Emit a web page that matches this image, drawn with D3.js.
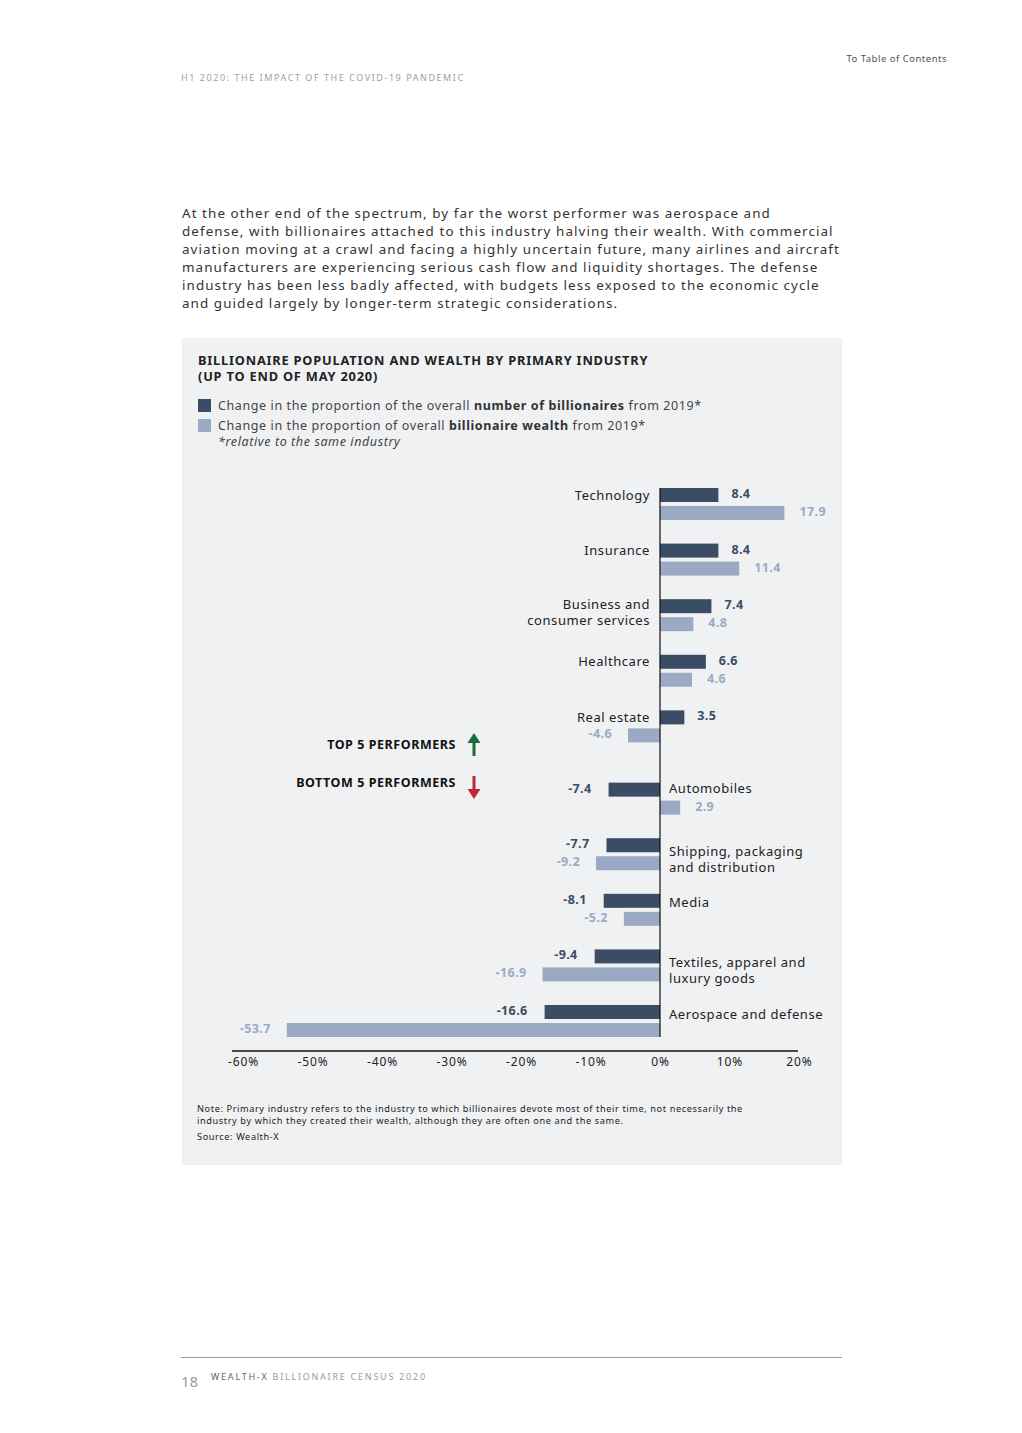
<!DOCTYPE html>
<html>
<head>
<meta charset="utf-8">
<script src="https://cdn.jsdelivr.net/npm/d3@7"></script>
<style>
  body { margin: 0; background: #fff; }
  svg text { font-family: "Noto Sans", "Open Sans", sans-serif; }
</style>
</head>
<body>
<svg id="page" width="1022" height="1433"></svg>
<script>
// data
const categories = ["Technology", "Insurance", "Business and\nconsumer services", "Healthcare", "Real estate",
  "Automobiles", "Shipping, packaging\nand distribution", "Media", "Textiles, apparel and\nluxury goods", "Aerospace and defense"];
const countChange = [8.4, 8.4, 7.4, 6.6, 3.5, -7.4, -7.7, -8.1, -9.4, -16.6];
const wealthChange = [17.9, 11.4, 4.8, 4.6, -4.6, 2.9, -9.2, -5.2, -16.9, -53.7];
const groups = ["top", "top", "top", "top", "top", "bottom", "bottom", "bottom", "bottom", "bottom"];
const xTicks = [-60, -50, -40, -30, -20, -10, 0, 10, 20];

const paragraph = [
  "At the other end of the spectrum, by far the worst performer was aerospace and",
  "defense, with billionaires attached to this industry halving their wealth. With commercial",
  "aviation moving at a crawl and facing a highly uncertain future, many airlines and aircraft",
  "manufacturers are experiencing serious cash flow and liquidity shortages. The defense",
  "industry has been less badly affected, with budgets less exposed to the economic cycle",
  "and guided largely by longer-term strategic considerations."
];

const data = categories.map((c, i) => ({
  name: c, count: countChange[i], wealth: wealthChange[i], group: groups[i],
  slot: i + (groups[i] === "bottom" ? 0.3 : 0)
}));

const darkCol = "#3a4d64";
const lightCol = "#9aaac5";

const svg = d3.select("#page");

// page header
svg.append("text").attr("x", 947).attr("y", 62).attr("text-anchor", "end")
  .style("font-size", "9.5px").style("fill", "#555").style("letter-spacing", "0.5px").text("To Table of Contents");
svg.append("text").attr("x", 181).attr("y", 81)
  .style("font-size", "9px").style("fill", "#a0a0a0").style("letter-spacing", "1.55px")
  .text("H1 2020: THE IMPACT OF THE COVID-19 PANDEMIC");

// paragraph
svg.append("g").selectAll("text").data(paragraph).join("text")
  .attr("x", 182).attr("y", (d, i) => 217.5 + i * 18)
  .style("font-size", "13.4px").style("fill", "#333").style("letter-spacing", "1.08px")
  .text(d => d);

// chart panel
svg.append("rect").attr("x", 182).attr("y", 338).attr("width", 660).attr("height", 827).attr("fill", "#f0f1f3");

svg.append("text").attr("x", 198).attr("y", 365).style("font-size", "12.8px").style("font-weight", "bold")
  .style("fill", "#222").style("letter-spacing", "0.8px").text("BILLIONAIRE POPULATION AND WEALTH BY PRIMARY INDUSTRY");
svg.append("text").attr("x", 198).attr("y", 381).style("font-size", "12.8px").style("font-weight", "bold")
  .style("fill", "#222").style("letter-spacing", "0.8px").text("(UP TO END OF MAY 2020)");

// legend
const legend = [
  { col: darkCol, pre: "Change in the proportion of the overall ", bold: "number of billionaires", post: " from 2019*" },
  { col: lightCol, pre: "Change in the proportion of overall ", bold: "billionaire wealth", post: " from 2019*" }
];
legend.forEach((l, i) => {
  const y = 399 + i * 20;
  svg.append("rect").attr("x", 198).attr("y", y).attr("width", 13).attr("height", 13).attr("fill", l.col);
  const t = svg.append("text").attr("x", 218).attr("y", y + 10.5).style("font-size", "12.5px")
    .style("fill", "#444").style("letter-spacing", "0.6px");
  t.append("tspan").text(l.pre);
  t.append("tspan").style("font-weight", "bold").style("fill", "#333").text(l.bold);
  t.append("tspan").text(l.post);
});
svg.append("text").attr("x", 218).attr("y", 446).style("font-size", "12.5px").style("font-style", "italic")
  .style("fill", "#444").style("letter-spacing", "0.6px").text("*relative to the same industry");

// scales
const x = d3.scaleLinear().domain([-60, 20]).range([243, 799]);
const y = d3.scaleLinear().domain([0, 9.3]).range([488, 1005]);
const barH = 14, gap = 18;

const g = svg.append("g");

g.selectAll(".bar-count").data(data).join("rect")
  .attr("class", "bar-count")
  .attr("x", d => x(Math.min(0, d.count)))
  .attr("y", d => y(d.slot))
  .attr("width", d => Math.abs(x(d.count) - x(0)))
  .attr("height", barH)
  .attr("fill", darkCol);

g.selectAll(".bar-wealth").data(data).join("rect")
  .attr("class", "bar-wealth")
  .attr("x", d => x(Math.min(0, d.wealth)))
  .attr("y", d => y(d.slot) + gap)
  .attr("width", d => Math.abs(x(d.wealth) - x(0)))
  .attr("height", barH)
  .attr("fill", lightCol);

// zero line
g.append("line").attr("x1", x(0)).attr("x2", x(0))
  .attr("y1", y(0)).attr("y2", y(9.3) + gap + barH)
  .attr("stroke", "#111").attr("stroke-width", 1.2);

// value labels
g.selectAll(".val-count").data(data).join("text")
  .attr("class", "val-count")
  .attr("x", d => d.count >= 0 ? x(d.count) + 13 : x(d.count) - 17)
  .attr("y", d => y(d.slot) + 10)
  .attr("text-anchor", d => d.count >= 0 ? "start" : "end")
  .style("font-size", "12.5px").style("font-weight", "bold").style("fill", darkCol).style("letter-spacing", "0.4px")
  .text(d => d.count);

g.selectAll(".val-wealth").data(data).join("text")
  .attr("class", "val-wealth")
  .attr("x", d => d.wealth >= 0 ? x(d.wealth) + 15 : x(d.wealth) - 16)
  .attr("y", d => y(d.slot) + gap + 10)
  .attr("text-anchor", d => d.wealth >= 0 ? "start" : "end")
  .style("font-size", "12.5px").style("font-weight", "bold").style("fill", lightCol).style("letter-spacing", "0.4px")
  .text(d => d.wealth);

// category labels, one text per line
data.forEach(d => {
  const lines = d.name.split("\n");
  const top = d.group === "top";
  const cy = y(d.slot) + barH / 2;
  let base;
  if (top) base = lines.length > 1 ? cy + 2.5 : cy + 4.5;
  else if (lines.length > 1) base = cy + 11;
  else base = d.slot < 6 ? cy + 3.5 : cy + 6.5;
  lines.forEach((ln, k) => {
    g.append("text")
      .attr("x", top ? x(0) - 10 : x(0) + 9)
      .attr("y", base + k * 16)
      .attr("text-anchor", top ? "end" : "start")
      .style("font-size", "13px").style("fill", "#222").style("letter-spacing", "0.55px")
      .text(ln);
  });
});

// x axis
const axisY = 1051;
const axis = g.append("g").attr("transform", `translate(0,${axisY})`)
  .call(d3.axisBottom(x).tickValues(xTicks).tickSize(0).tickPadding(6).tickFormat(d => d + "%"));
axis.select(".domain").attr("d", `M232,0H798`).attr("stroke", "#111").attr("stroke-width", 1.3);
axis.selectAll("text").style("font-size", "12px").style("fill", "#222")
  .style("font-family", "'Noto Sans', sans-serif").style("letter-spacing", "0.9px");

// performer markers
const markers = [
  { label: "TOP 5 PERFORMERS", ty: 749, col: "#1a6b3d", up: true, y0: 733, y1: 756 },
  { label: "BOTTOM 5 PERFORMERS", ty: 787, col: "#c0282f", up: false, y0: 776, y1: 799 }
];
markers.forEach(m => {
  svg.append("text").attr("x", 456).attr("y", m.ty).attr("text-anchor", "end")
    .style("font-size", "12.5px").style("font-weight", "bold").style("fill", "#111")
    .style("letter-spacing", "0.55px").text(m.label);
  const ax = 474;
  const tip = m.up ? m.y0 : m.y1;
  const dir = m.up ? 1 : -1;
  svg.append("line").attr("x1", ax).attr("x2", ax)
    .attr("y1", tip + dir * 8).attr("y2", m.up ? m.y1 : m.y0)
    .attr("stroke", m.col).attr("stroke-width", 3);
  svg.append("path")
    .attr("d", `M${ax},${tip}L${ax - 6.5},${tip + dir * 10}L${ax + 6.5},${tip + dir * 10}Z`)
    .attr("fill", m.col);
});

// note
const notes = [
  "Note: Primary industry refers to the industry to which billionaires devote most of their time, not necessarily the",
  "industry by which they created their wealth, although they are often one and the same."
];
svg.append("g").selectAll("text").data(notes).join("text")
  .attr("x", 197).attr("y", (d, i) => 1112 + i * 12)
  .style("font-size", "9.2px").style("fill", "#222").style("letter-spacing", "0.6px").text(d => d);
svg.append("text").attr("x", 197).attr("y", 1140).style("font-size", "9.2px").style("fill", "#222")
  .style("letter-spacing", "0.6px").text("Source: Wealth-X");

// footer
svg.append("line").attr("x1", 181).attr("x2", 842).attr("y1", 1357.5).attr("y2", 1357.5)
  .attr("stroke", "#999").attr("stroke-width", 1);
svg.append("text").attr("x", 181).attr("y", 1387).style("font-size", "15px").style("fill", "#9a9a9a").text("18");
const ft = svg.append("text").attr("x", 211).attr("y", 1380).style("font-size", "9px").style("letter-spacing", "1.75px");
ft.append("tspan").style("fill", "#666").text("WEALTH-X ");
ft.append("tspan").style("fill", "#9a9a9a").text("BILLIONAIRE CENSUS 2020");
</script>
</body>
</html>
